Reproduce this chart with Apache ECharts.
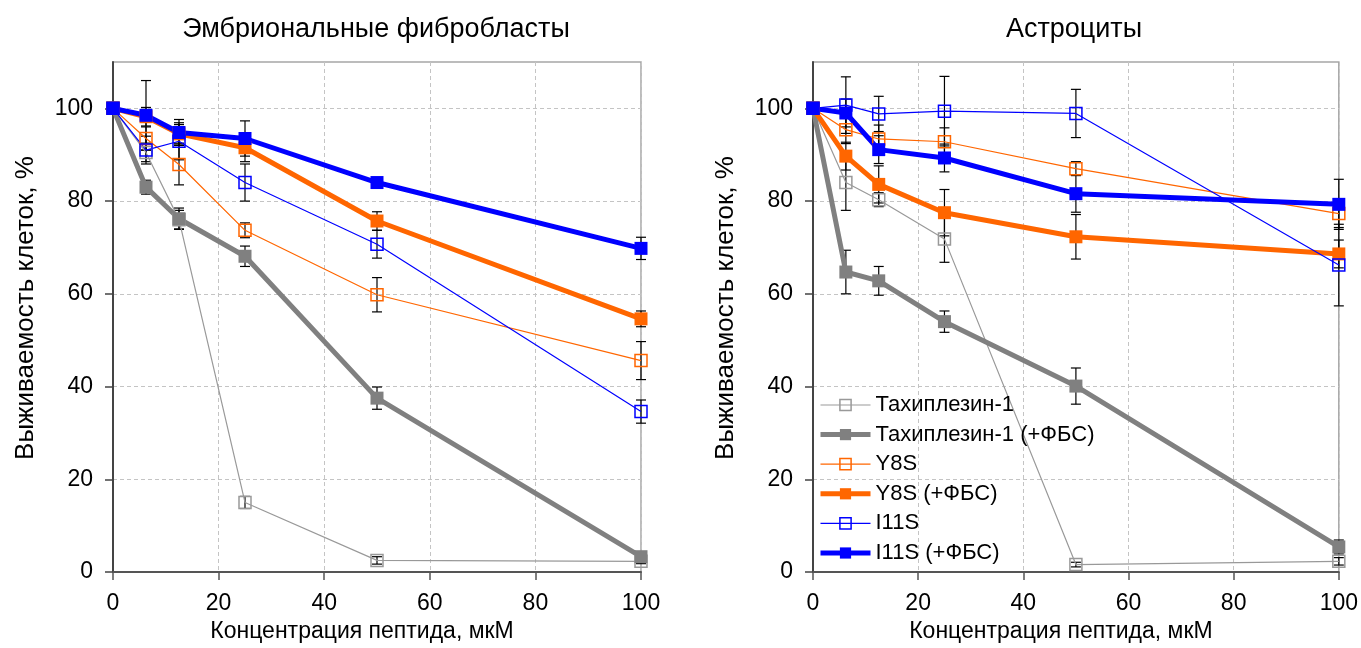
<!DOCTYPE html>
<html><head><meta charset="utf-8">
<script src="https://cdn.jsdelivr.net/npm/echarts@6/dist/echarts.min.js"></script>
<style>html,body{margin:0;padding:0;background:#fff}#c{width:1361px;height:648px}</style>
</head><body><div id="c"></div>
<script>
// ---- data ----
const concentrations = [0, 6.25, 12.5, 25, 50, 100];
const xTicks = [0, 20, 40, 60, 80, 100];
const yTicks = [0, 20, 40, 60, 80, 100];
const seriesNames = ['Тахиплезин-1', 'Тахиплезин-1 (+ФБС)', 'Y8S', 'Y8S (+ФБС)', 'I11S', 'I11S (+ФБС)'];
const panelTitles = ['Эмбриональные фибробласты', 'Астроциты'];
const xAxisTitle = 'Концентрация пептида, мкМ';
const yAxisTitle = 'Выживаемость клеток, %';

// Embryonic fibroblasts
const fibTax     = [100, 90.5, 76.0, 15.0, 2.5, 2.3];
const fibTaxErr  = [0, 2.0, 2.0, 1.3, 0.8, 0.5];
const fibTaxF    = [100, 83.0, 76.2, 68.1, 37.5, 3.3];
const fibTaxFErr = [0, 1.5, 2.3, 2.2, 2.4, 1.0];
const fibY8S     = [100, 93.5, 87.9, 73.7, 59.8, 45.6];
const fibY8SErr  = [0, 2.5, 4.4, 1.6, 3.7, 4.1];
const fibY8SF    = [100, 98.2, 94.5, 91.5, 75.7, 54.6];
const fibY8SFErr = [0, 2.0, 2.0, 3.0, 2.0, 1.7];
const fibI11S    = [100, 91.0, 92.9, 84.0, 70.7, 34.6];
const fibI11SErr = [0, 3.0, 4.0, 4.0, 3.0, 2.5];
const fibI11SF   = [100, 98.5, 94.8, 93.5, 84.0, 69.8];
const fibI11SFErr= [0, 7.5, 2.8, 3.8, 1.0, 2.4];

// Astrocytes
const astTax     = [100, 84.0, 80.3, 71.8, 1.6, 2.3];
const astTaxErr  = [0, 6.0, 1.5, 5.0, 0.5, 0.8];
const astTaxF    = [100, 64.7, 62.8, 54.0, 40.1, 5.4];
const astTaxFErr = [0, 4.7, 3.1, 2.3, 3.9, 1.5];
const astY8S     = [100, 95.4, 93.4, 92.8, 87.0, 77.3];
const astY8SErr  = [0, 3.0, 3.0, 3.0, 1.5, 3.0];
const astY8SF    = [100, 89.7, 83.6, 77.5, 72.3, 68.6];
const astY8SFErr = [0, 3.0, 4.0, 5.0, 4.8, 3.0];
const astI11S    = [100, 100.7, 98.8, 99.4, 98.9, 66.2];
const astI11SErr = [0, 6.1, 3.8, 7.5, 5.2, 8.8];
const astI11SF   = [100, 99.0, 91.1, 89.3, 81.6, 79.3];
const astI11SFErr= [0, 3.0, 3.0, 3.0, 4.0, 5.4];

// ---- styles ----
const FONT = 'Liberation Sans, Arial, sans-serif';
const GRAY = '#808080', ORANGE = '#FF6600', BLUE = '#0000FF';
const styles = [
  {color: '#999999', hollow: true, width: 1.2},
  {color: GRAY, hollow: false, width: 5},
  {color: ORANGE, hollow: true, width: 1.2},
  {color: ORANGE, hollow: false, width: 5},
  {color: BLUE, hollow: true, width: 1.2},
  {color: BLUE, hollow: false, width: 5}
];
const panels = [
  {vals: [fibTax, fibTaxF, fibY8S, fibY8SF, fibI11S, fibI11SF],
   errs: [fibTaxErr, fibTaxFErr, fibY8SErr, fibY8SFErr, fibI11SErr, fibI11SFErr]},
  {vals: [astTax, astTaxF, astY8S, astY8SF, astI11S, astI11SF],
   errs: [astTaxErr, astTaxFErr, astY8SErr, astY8SFErr, astI11SErr, astI11SFErr]}
];

function errRender(params, api) {
  const x = api.value(0), lo = api.value(1), hi = api.value(2);
  const a = api.coord([x, lo]), b = api.coord([x, hi]);
  const w = 5;
  const st = {stroke: '#000', lineWidth: 1.2};
  return {type: 'group', children: [
    {type: 'line', shape: {x1: a[0], y1: a[1], x2: b[0], y2: b[1]}, style: st},
    {type: 'line', shape: {x1: a[0] - w, y1: a[1], x2: a[0] + w, y2: a[1]}, style: st},
    {type: 'line', shape: {x1: b[0] - w, y1: b[1], x2: b[0] + w, y2: b[1]}, style: st}
  ]};
}

function itemStyleFor(s) {
  return s.hollow
    ? {color: 'rgba(255,255,255,0)', borderColor: s.color, borderWidth: 1.5}
    : {color: s.color, borderColor: s.color, borderWidth: 0};
}

const grids = [
  {left: 113, right: 720, top: 62, bottom: 75, show: true, borderColor: '#a6a6a6', borderWidth: 1.5},
  {left: 813, right: 22, top: 62, bottom: 75, show: true, borderColor: '#a6a6a6', borderWidth: 1.5}
];
const xAxes = [], yAxes = [], series = [];
panels.forEach((p, gi) => {
  xAxes.push({
    type: 'value', gridIndex: gi, min: 0, max: 100, interval: 20,
    name: xAxisTitle, nameLocation: 'middle', nameGap: 48,
    nameTextStyle: {fontFamily: FONT, fontSize: 23, color: '#000', padding: [0, 30, 0, 0]},
    axisLine: {lineStyle: {color: '#555', width: 2}},
    axisTick: {show: true, length: 8, lineStyle: {color: '#555', width: 1.5}},
    axisLabel: {fontFamily: FONT, fontSize: 23, color: '#000', margin: 20,
      customValues: xTicks},
    splitLine: {show: true, lineStyle: {color: '#c4c4c4', type: [4, 3], width: 1}}
  });
  yAxes.push({
    type: 'value', gridIndex: gi, min: 0, max: 110, interval: 20,
    name: yAxisTitle, nameLocation: 'middle', nameGap: 74, nameRotate: 90,
    nameTextStyle: {fontFamily: FONT, fontSize: 26, color: '#000', padding: [0, 0, 0, 18]},
    axisLine: {show: true, lineStyle: {color: '#444', width: 2}},
    axisTick: {show: true, length: 8, lineStyle: {color: '#444', width: 1.5}, customValues: yTicks},
    axisLabel: {fontFamily: FONT, fontSize: 23, color: '#000', margin: 20, customValues: yTicks},
    splitLine: {show: true, lineStyle: {color: '#c4c4c4', type: [4, 3], width: 1}}
  });
  p.vals.forEach((vals, si) => {
    const errs = p.errs[si];
    const ebData = [];
    concentrations.forEach((c, k) => {
      if (errs[k] > 0) ebData.push([c, vals[k] - errs[k], vals[k] + errs[k]]);
    });
    series.push({
      type: 'custom', name: 'err' + gi + '_' + si, xAxisIndex: gi, yAxisIndex: gi,
      renderItem: errRender, data: ebData, encode: {x: 0, y: [1, 2]}, z: 1, silent: true
    });
  });
  p.vals.forEach((vals, si) => {
    const s = styles[si];
    series.push({
      type: 'line', name: seriesNames[si], xAxisIndex: gi, yAxisIndex: gi,
      data: concentrations.map((c, k) => [c, vals[k]]),
      symbol: 'rect', symbolSize: s.hollow ? 12 : 13, showAllSymbol: true,
      lineStyle: {color: s.color, width: s.width},
      itemStyle: itemStyleFor(s),
      z: 3, emphasis: {disabled: true}
    });
  });
});

const legendData = seriesNames.map((n, i) => ({
  name: n,
  itemStyle: itemStyleFor(styles[i]),
  lineStyle: {color: styles[i].color, width: styles[i].hollow ? 1.2 : 5}
}));

const chart = echarts.init(document.getElementById('c'), null, {renderer: 'canvas'});
chart.setOption({
  animation: false,
  backgroundColor: '#fff',
  grid: grids,
  xAxis: xAxes,
  yAxis: yAxes,
  legend: {
    data: legendData, orient: 'vertical', left: 818, top: 394, padding: 0,
    itemWidth: 50, itemHeight: 14, itemGap: 7.6,
    textStyle: {fontFamily: FONT, fontSize: 22, color: '#000', lineHeight: 22}
  },
  graphic: [
    {type: 'text', x: 376, y: 30, style: {text: panelTitles[0], font: '27px ' + FONT, fill: '#000', textAlign: 'center', textVerticalAlign: 'middle'}},
    {type: 'text', x: 1074, y: 30, style: {text: panelTitles[1], font: '27px ' + FONT, fill: '#000', textAlign: 'center', textVerticalAlign: 'middle'}}
  ],
  series: series
});
</script></body></html>
